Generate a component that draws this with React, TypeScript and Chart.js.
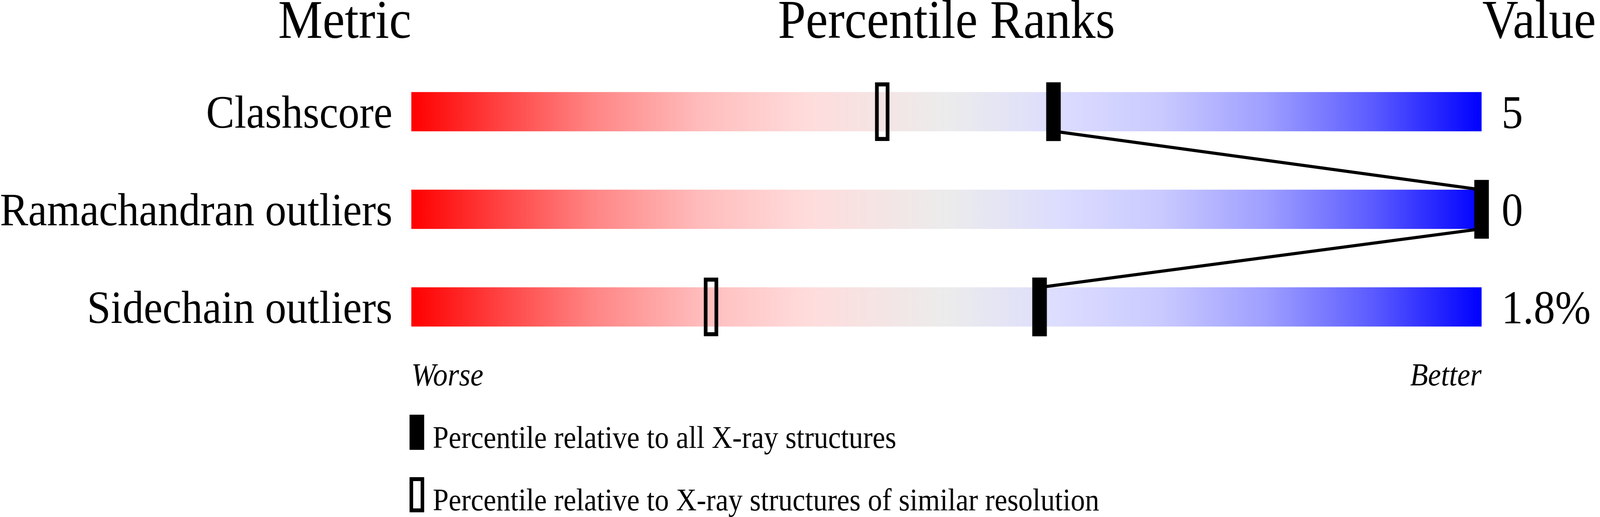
import { useEffect, useRef } from "react";
import {
  Chart,
  BarController,
  BarElement,
  CategoryScale,
  LinearScale,
} from "chart.js";

Chart.register(BarController, BarElement, CategoryScale, LinearScale);

// data
const metrics = ["Clashscore", "Ramachandran outliers", "Sidechain outliers"];
const metricValues = ["5", "0", "1.8%"];
const allXray = [60, 100, 58.7];
const similarRes = [44, null, 28];
const headers = ["Metric", "Percentile Ranks", "Value"];
const scaleEnds = ["Worse", "Better"];
const legendLabels = [
  "Percentile relative to all X-ray structures",
  "Percentile relative to X-ray structures of similar resolution",
];

const FONT = '"Liberation Serif", "Times New Roman", serif';
const MARKER_HALF = 0.67; // half marker width, in percentile units
const BASE_W = 4485;
const BASE_H = 1324;

const gradientStops: [number, string][] = [
  [0, "#ff0000"],
  [0.08, "#ff4040"],
  [0.17, "#ff8585"],
  [0.27, "#ffbcbc"],
  [0.37, "#ffdcdc"],
  [0.5, "#ececec"],
  [0.61, "#dcdcff"],
  [0.7, "#cacaff"],
  [0.8, "#9e9eff"],
  [0.9, "#5a5aff"],
  [1, "#0000ff"],
];

// line joining the "all X-ray" markers, drawn over the range bars, under the markers
const connectorPlugin = {
  id: "connector",
  afterDatasetDraw(chart: any, args: any) {
    if (args.index !== 2) return;
    const { ctx } = chart;
    const x = chart.scales.x;
    const y = chart.scales.y;
    const half = 50;
    ctx.save();
    ctx.beginPath();
    ctx.lineWidth = 8;
    ctx.strokeStyle = "#000";
    allXray.forEach((p, i) => {
      const px = x.getPixelForValue(p);
      const py = y.getPixelForValue(i);
      if (i === 0) {
        ctx.moveTo(px, py + half);
      } else {
        ctx.lineTo(px, py - half);
        if (i < allXray.length - 1) ctx.lineTo(px, py + half);
      }
    });
    ctx.stroke();
    ctx.restore();
  },
};

const annotationsPlugin = {
  id: "annotations",
  afterDraw(chart: any) {
    const { ctx, chartArea } = chart;
    const { left, right, top, bottom } = chartArea;
    ctx.save();
    ctx.fillStyle = "#000";
    ctx.textBaseline = "alphabetic";

    // column headers
    ctx.font = `140px ${FONT}`;
    const hy = top - 64;
    ctx.textAlign = "right";
    ctx.fillText(headers[0], left, hy);
    ctx.textAlign = "center";
    ctx.fillText(headers[1], (left + right) / 2, hy);
    ctx.textAlign = "left";
    ctx.fillText(headers[2], right + 2, hy);

    // worse / better
    ctx.font = `italic 82px ${FONT}`;
    ctx.textAlign = "left";
    ctx.fillText(scaleEnds[0], left, bottom + 76);
    ctx.textAlign = "right";
    ctx.fillText(scaleEnds[1], right, bottom + 76);

    // legend
    ctx.font = `80px ${FONT}`;
    ctx.textAlign = "left";
    legendLabels.forEach((label, i) => {
      const my = bottom + 151 + i * 160;
      if (i === 0) {
        ctx.fillRect(left - 5, my, 41, 90);
      } else {
        ctx.lineWidth = 10;
        ctx.strokeStyle = "#000";
        ctx.strokeRect(left, my + 5, 31, 80);
      }
      ctx.fillText(label, left + 60, my + 85);
    });
    ctx.restore();
  },
};

export default function App() {
  const canvasRef = useRef<HTMLCanvasElement>(null);
  const chartRef = useRef<Chart | null>(null);
  const vw = typeof window !== "undefined" ? window.innerWidth : BASE_W;
  const vh = typeof window !== "undefined" ? window.innerHeight : BASE_H;
  const sx = vw / BASE_W;
  const sy = vh / BASE_H;

  useEffect(() => {
    document.body.style.margin = "0";
    if (!canvasRef.current) return;
    if (chartRef.current) chartRef.current.destroy();

    const gradient = (context: any) => {
      const { chart } = context;
      const area = chart.chartArea;
      if (!area) return "#ececec";
      const g = chart.ctx.createLinearGradient(area.left, 0, area.right, 0);
      gradientStops.forEach(([o, c]) => g.addColorStop(o, c));
      return g;
    };

    chartRef.current = new Chart(canvasRef.current, {
      type: "bar",
      data: {
        labels: metrics,
        datasets: [
          {
            label: "all X-ray",
            data: allXray.map((p) => [p - MARKER_HALF, p + MARKER_HALF]),
            backgroundColor: "#000",
            borderWidth: 0,
            barThickness: 150,
            grouped: false,
            clip: false,
          },
          {
            label: "similar resolution",
            data: similarRes.map((p) =>
              p == null ? null : [p - MARKER_HALF, p + MARKER_HALF],
            ),
            backgroundColor: "rgba(0,0,0,0)",
            borderColor: "#000",
            borderWidth: 10,
            borderSkipped: false,
            barThickness: 150,
            grouped: false,
            clip: false,
          },
          {
            label: "range",
            data: metrics.map(() => [0, 100]),
            backgroundColor: gradient,
            borderWidth: 0,
            barThickness: 100,
            grouped: false,
          },
        ] as any,
      },
      options: {
        indexAxis: "y",
        responsive: false,
        animation: false,
        events: [],
        layout: { padding: { top: 161, bottom: 413, left: 0, right: 0 } },
        plugins: {
          legend: { display: false },
          tooltip: { enabled: false },
        },
        scales: {
          x: { type: "linear", min: 0, max: 100, display: false },
          y: {
            type: "category",
            position: "left",
            offset: true,
            grid: { display: false, drawTicks: false },
            border: { display: false },
            ticks: {
              color: "#000",
              font: { family: FONT, size: 119 },
              padding: 53,
              labelOffset: 10,
            },
            afterFit: (scale: any) => {
              scale.width = 1153;
            },
          },
          values: {
            type: "category",
            position: "right",
            labels: metricValues,
            offset: true,
            grid: { display: false, drawTicks: false },
            border: { display: false },
            ticks: {
              color: "#000",
              font: { family: FONT, size: 120 },
              padding: 56,
              labelOffset: 10,
            },
            afterFit: (scale: any) => {
              scale.width = 332;
            },
          },
        },
      } as any,
      plugins: [connectorPlugin, annotationsPlugin],
    });

    return () => {
      if (chartRef.current) {
        chartRef.current.destroy();
        chartRef.current = null;
      }
    };
  }, []);

  return (
    <div
      style={{
        width: vw,
        height: vh,
        overflow: "hidden",
        background: "#fff",
      }}
    >
      <canvas
        ref={canvasRef}
        width={BASE_W}
        height={BASE_H}
        style={{
          display: "block",
          width: BASE_W,
          height: BASE_H,
          transform: `scale(${sx}, ${sy})`,
          transformOrigin: "0 0",
        }}
      />
    </div>
  );
}
